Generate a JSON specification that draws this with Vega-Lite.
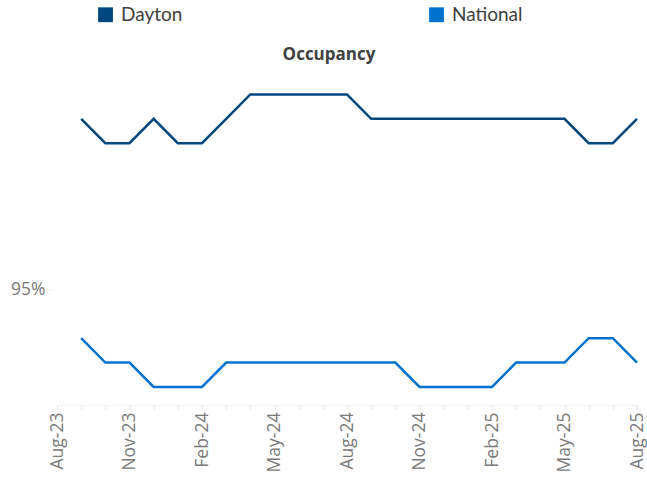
{
  "$schema": "https://vega.github.io/schema/vega-lite/v6.json",
  "width": 580,
  "height": 334,
  "autosize": {"type": "none"},
  "padding": {"left": 57, "top": 70, "right": 10, "bottom": 74},
  "background": "white",
  "title": {"text": "Occupancy", "font": "Open Sans", "fontSize": 17, "fontWeight": "bold", "color": "#404040", "anchor": "middle", "frame": "group", "dx": -18, "offset": -59},
  "config": {"view": {"stroke": null}, "font": "Open Sans"},
  "data": {"values": [
    {"month": "Sep-23", "series": "Dayton", "occ": 95.7},
    {"month": "Oct-23", "series": "Dayton", "occ": 95.6},
    {"month": "Nov-23", "series": "Dayton", "occ": 95.6},
    {"month": "Dec-23", "series": "Dayton", "occ": 95.7},
    {"month": "Jan-24", "series": "Dayton", "occ": 95.6},
    {"month": "Feb-24", "series": "Dayton", "occ": 95.6},
    {"month": "Mar-24", "series": "Dayton", "occ": 95.7},
    {"month": "Apr-24", "series": "Dayton", "occ": 95.8},
    {"month": "May-24", "series": "Dayton", "occ": 95.8},
    {"month": "Jun-24", "series": "Dayton", "occ": 95.8},
    {"month": "Jul-24", "series": "Dayton", "occ": 95.8},
    {"month": "Aug-24", "series": "Dayton", "occ": 95.8},
    {"month": "Sep-24", "series": "Dayton", "occ": 95.7},
    {"month": "Oct-24", "series": "Dayton", "occ": 95.7},
    {"month": "Nov-24", "series": "Dayton", "occ": 95.7},
    {"month": "Dec-24", "series": "Dayton", "occ": 95.7},
    {"month": "Jan-25", "series": "Dayton", "occ": 95.7},
    {"month": "Feb-25", "series": "Dayton", "occ": 95.7},
    {"month": "Mar-25", "series": "Dayton", "occ": 95.7},
    {"month": "Apr-25", "series": "Dayton", "occ": 95.7},
    {"month": "May-25", "series": "Dayton", "occ": 95.7},
    {"month": "Jun-25", "series": "Dayton", "occ": 95.6},
    {"month": "Jul-25", "series": "Dayton", "occ": 95.6},
    {"month": "Aug-25", "series": "Dayton", "occ": 95.7},
    {"month": "Sep-23", "series": "National", "occ": 94.8},
    {"month": "Oct-23", "series": "National", "occ": 94.7},
    {"month": "Nov-23", "series": "National", "occ": 94.7},
    {"month": "Dec-23", "series": "National", "occ": 94.6},
    {"month": "Jan-24", "series": "National", "occ": 94.6},
    {"month": "Feb-24", "series": "National", "occ": 94.6},
    {"month": "Mar-24", "series": "National", "occ": 94.7},
    {"month": "Apr-24", "series": "National", "occ": 94.7},
    {"month": "May-24", "series": "National", "occ": 94.7},
    {"month": "Jun-24", "series": "National", "occ": 94.7},
    {"month": "Jul-24", "series": "National", "occ": 94.7},
    {"month": "Aug-24", "series": "National", "occ": 94.7},
    {"month": "Sep-24", "series": "National", "occ": 94.7},
    {"month": "Oct-24", "series": "National", "occ": 94.7},
    {"month": "Nov-24", "series": "National", "occ": 94.6},
    {"month": "Dec-24", "series": "National", "occ": 94.6},
    {"month": "Jan-25", "series": "National", "occ": 94.6},
    {"month": "Feb-25", "series": "National", "occ": 94.6},
    {"month": "Mar-25", "series": "National", "occ": 94.7},
    {"month": "Apr-25", "series": "National", "occ": 94.7},
    {"month": "May-25", "series": "National", "occ": 94.7},
    {"month": "Jun-25", "series": "National", "occ": 94.8},
    {"month": "Jul-25", "series": "National", "occ": 94.8},
    {"month": "Aug-25", "series": "National", "occ": 94.7}
  ]},
  "mark": {"type": "line", "strokeWidth": 2.5},
  "encoding": {
    "x": {
      "field": "month", "type": "ordinal", "sort": null,
      "scale": {"type": "point", "padding": 0, "domain": ["Aug-23","Sep-23","Oct-23","Nov-23","Dec-23","Jan-24","Feb-24","Mar-24","Apr-24","May-24","Jun-24","Jul-24","Aug-24","Sep-24","Oct-24","Nov-24","Dec-24","Jan-25","Feb-25","Mar-25","Apr-25","May-25","Jun-25","Jul-25","Aug-25"]},
      "axis": {
        "title": null,
        "labelAngle": -90,
        "labelExpr": "indexof(['Aug-23','Nov-23','Feb-24','May-24','Aug-24','Nov-24','Feb-25','May-25','Aug-25'], datum.value) >= 0 ? datum.value : ''",
        "labelFontSize": 17.5,
        "labelColor": "#7a7a7a",
        "labelPadding": 3,
        "tickColor": "#e3e3e3",
        "tickSize": 4,
        "domainColor": "#f2f2f2",
        "grid": false,
        "offset": 1
      }
    },
    "y": {
      "field": "occ", "type": "quantitative",
      "scale": {"domain": [94.53, 95.9], "nice": false, "zero": false},
      "axis": {
        "title": null,
        "values": [95],
        "labelExpr": "format(datum.value, '.0f') + '%'",
        "labelFontSize": 17.5,
        "labelColor": "#7a7a7a",
        "domain": false,
        "grid": false,
        "tickColor": "#eeeeee",
        "tickSize": 5,
        "labelPadding": 2,
        "offset": 5
      }
    },
    "color": {
      "field": "series", "type": "nominal",
      "scale": {"domain": ["Dayton", "National"], "range": ["#00477F", "#0072CE"]},
      "legend": {
        "title": null,
        "orient": "none",
        "legendX": 39,
        "legendY": -65,
        "direction": "horizontal",
        "columns": 2,
        "columnPadding": 244,
        "symbolType": "square",
        "symbolSize": 220,
        "symbolStrokeWidth": 0,
        "labelFontSize": 19,
        "labelFont": "Lato",
        "labelColor": "#404040",
        "labelOffset": 6,
        "encode": {"symbols": {"update": {"fill": {"scale": "color", "field": "value"}, "fillOpacity": {"value": 1}}}}
      }
    }
  }
}
